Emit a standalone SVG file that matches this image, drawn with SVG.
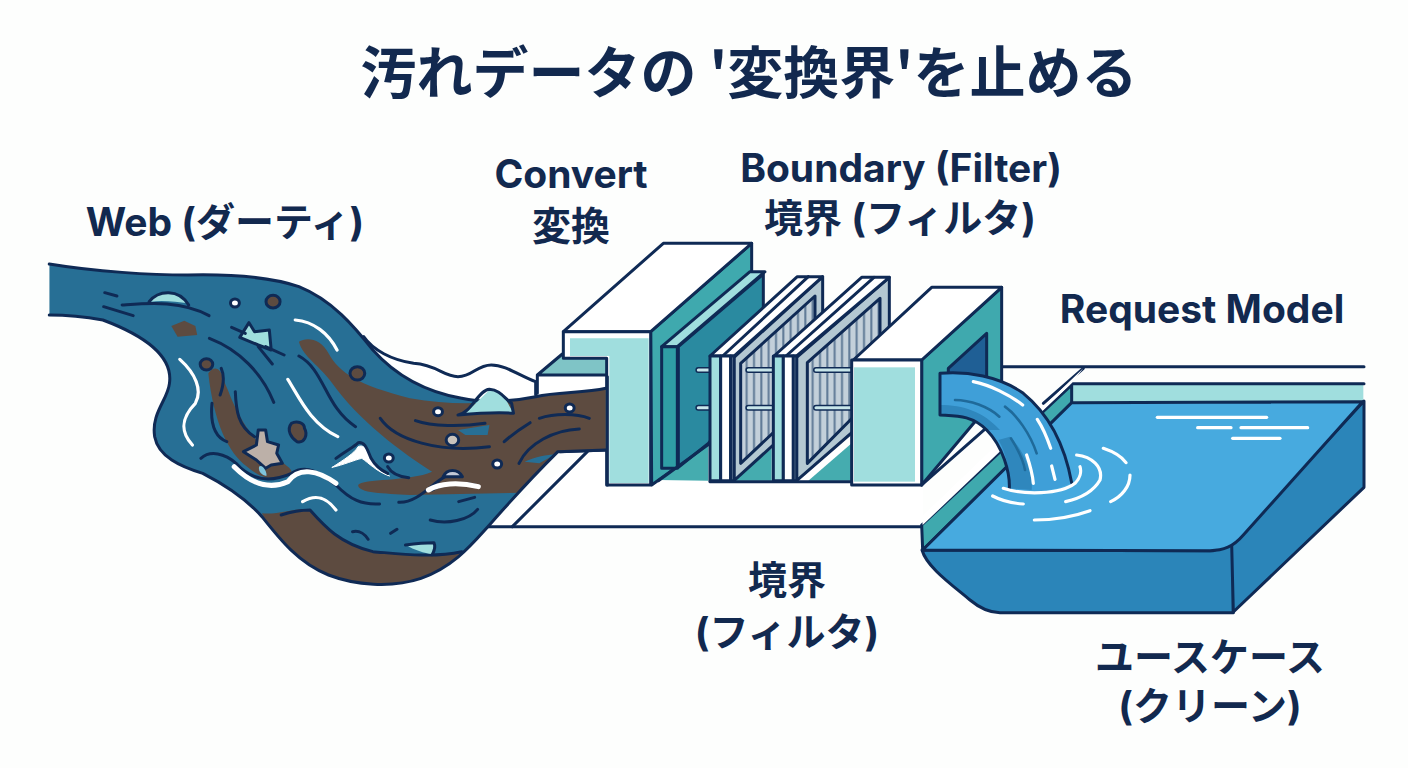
<svg xmlns="http://www.w3.org/2000/svg" width="1408" height="768" viewBox="0 0 1408 768">
<style>
text{font-family:Inter,"Noto Sans CJK JP","Noto Sans",sans-serif;font-weight:700;fill:#12294f;text-anchor:middle}
.l{font-size:39px}
path,polygon,line,circle,rect{vector-effect:non-scaling-stroke;stroke-linejoin:round;stroke-linecap:round}
.o{stroke:#0f2a55;stroke-width:3;fill:none}
.os{stroke:#0f2a55;stroke-width:3}
.t{stroke:#0f2a55;stroke-width:3;fill:none}
.w{stroke:#fff;stroke-width:3.2;fill:none}
.wb{stroke:#fff;stroke-width:5;fill:none}
.aqua{fill:#a0dede}.teal{fill:#3fa9ae}.br{fill:#5d4b40}
.f{fill:#fff}
</style>
<defs>
<pattern id="hatch" width="22" height="20" patternUnits="userSpaceOnUse">
<rect width="22" height="20" fill="#c3d0da"/><rect x="9" width="6" height="20" fill="#5f7a96"/>
</pattern>
<clipPath id="rc"><path d="M25,42C150,65 300,75 400,75C520,72 620,80 700,110C790,150 850,230 900,300C960,375 1040,425 1140,445C1200,460 1270,455 1340,440C1400,425 1470,430 1530,415L1530,600L1400,605C1350,660 1290,730 1215,825C1170,880 1120,950 1030,985C950,1015 850,1005 780,975C700,940 650,870 600,800C560,750 510,710 440,670C380,650 320,620 310,560C300,490 345,450 350,400C360,320 290,260 170,210C120,200 70,195 25,195Z"/></clipPath>
</defs>
<rect width="1408" height="768" fill="#fdfefd"/>
<text id="title" x="749" y="93" font-size="56" style="font-family:'Noto Sans CJK JP',sans-serif">汚れデータの '変換界'を止める</text>

<g id="platform" transform="translate(530,230) scale(.33333)">
<polygon class="f" points="-130,890 170,665 1180,660 1180,890"/>
<line class="o" x1="-130" y1="890" x2="1180" y2="890"/>
<line class="o" x1="-53" y1="890" x2="172" y2="665"/>
<line class="o" x1="90" y1="665" x2="232" y2="660"/>
</g>

<g id="basin" transform="translate(900,340) scale(.33333)">
<line class="o" x1="305" y1="80" x2="1392" y2="80"/>
<line class="o" x1="430" y1="190" x2="550" y2="85"/>
<polygon class="aqua" points="515,135 1390,135 1390,183 515,185"/>
<line class="o" x1="510" y1="131" x2="1392" y2="131"/>
<polygon class="teal os" points="65,555 515,135 515,190 68,630"/>
<path class="os" fill="#2b85b9" d="M66,630C80,680 150,730 210,780C240,805 270,818 300,818L1000,818L1000,610L940,632Z"/>
<polygon class="os" fill="#2b85b9" points="995,612 1392,183 1392,442 1000,816"/>
<path class="os" fill="#47aadf" d="M68,630L515,188L1388,185L1030,585C1000,620 970,632 930,632Z"/>
<line class="w" x1="772" y1="232" x2="1100" y2="232"/><line class="w" x1="893" y1="263" x2="993" y2="263"/><line class="w" x1="1023" y1="263" x2="1223" y2="263"/><line class="w" x1="998" y1="295" x2="1140" y2="295"/>
</g>

<g id="block1" transform="translate(530,230) scale(.33333)">
<polygon points="22,435 97,375 97,385 232,385 232,435" fill="#7fc4c6"/>
<polygon class="f" points="24,435 232,435 232,490 24,490"/>
<path class="o" d="M22,490L22,435L97,372M22,435L232,435"/>
<polygon class="teal os" points="362,305 665,40 665,125 540,640 365,765"/>
<polygon points="385,750 535,640 535,752" fill="#45acaf"/>
<polygon points="445,350 700,132 700,425 535,640 445,712" fill="#2a8aa0" class="os"/>
<polygon class="aqua os" points="395,350 660,125 705,125 442,350"/>
<polygon class="os" fill="#2f9ea5" points="395,350 442,350 442,715 395,715"/>
<line class="o" x1="385" y1="752" x2="540" y2="640"/>
<polygon class="f os" points="100,305 400,40 665,40 362,305"/>
<polygon class="f os" points="100,305 362,305 362,765 230,765 230,385 100,385"/>
<polygon class="aqua" points="120,325 356,325 356,759 238,759 238,378 120,378"/>
<line x1="505" y1="420" x2="540" y2="420" stroke="#0f2a55" stroke-width="6"/><line x1="505" y1="420" x2="540" y2="420" stroke="#c8e6ea" stroke-width="3"/>
<line x1="505" y1="533" x2="540" y2="533" stroke="#0f2a55" stroke-width="6"/><line x1="505" y1="533" x2="540" y2="533" stroke="#c8e6ea" stroke-width="3"/>
</g>

<g id="filter1" transform="translate(530,230) scale(.33333)">
<polygon points="610,752 725,655 725,752" fill="#45acaf"/>
<polygon class="os" fill="#b4c8d2" points="612,382 878,140 878,510 612,752"/>
<polygon class="os" fill="url(#hatch)" points="632,400 855,198 855,490 632,700"/>
<polygon class="f os" points="540,378 802,140 878,140 612,378"/>
<line class="o" x1="578" y1="378" x2="835" y2="140"/>
<rect class="os aqua" x="540" y="378" width="32" height="374"/>
<rect class="os f" x="572" y="378" width="30" height="374"/>
<rect class="os" fill="#b4c8d2" x="602" y="378" width="10" height="374"/>
<line x1="655" y1="420" x2="725" y2="420" stroke="#0f2a55" stroke-width="6"/><line x1="655" y1="420" x2="725" y2="420" stroke="#c8e6ea" stroke-width="3"/>
<line x1="655" y1="533" x2="725" y2="533" stroke="#0f2a55" stroke-width="6"/><line x1="655" y1="533" x2="725" y2="533" stroke="#c8e6ea" stroke-width="3"/>
</g>

<g id="filter2" transform="translate(530,230) scale(.33333)">
<polygon points="835,752 965,640 965,752" fill="#45acaf"/>
<polygon class="os" fill="#b4c8d2" points="800,382 1078,142 1078,510 800,752"/>
<polygon class="os" fill="url(#hatch)" points="832,398 1050,205 1050,480 832,700"/>
<polygon class="f os" points="732,378 995,142 1078,142 800,378"/>
<line class="o" x1="768" y1="378" x2="1032" y2="142"/>
<rect class="os aqua" x="730" y="378" width="30" height="374"/>
<rect class="os f" x="760" y="378" width="30" height="374"/>
<rect class="os" fill="#b4c8d2" x="790" y="378" width="10" height="374"/>
<line x1="858" y1="420" x2="965" y2="420" stroke="#0f2a55" stroke-width="6"/><line x1="858" y1="420" x2="965" y2="420" stroke="#c8e6ea" stroke-width="3"/>
<line x1="858" y1="533" x2="965" y2="533" stroke="#0f2a55" stroke-width="6"/><line x1="858" y1="533" x2="965" y2="533" stroke="#c8e6ea" stroke-width="3"/>
<line class="o" x1="540" y1="755" x2="965" y2="755"/>
</g>

<g id="outlet" transform="translate(530,230) scale(.33333)">
<polygon class="teal os" points="1175,390 1415,172 1415,480 1175,765"/>
<polygon class="os" fill="#1f5f95" points="1255,415 1370,310 1370,440 1255,440"/>
<polygon class="f os" points="970,390 1205,172 1415,172 1175,390"/>
<rect class="f os" x="965" y="390" width="210" height="375"/>
<rect class="aqua" x="972" y="412" width="183" height="343"/>
</g>

<g id="white-band" transform="translate(900,340) scale(.33333)">
<polygon class="f" points="65,530 305,300 440,190 550,85 515,130 68,555"/>
<line class="o" x1="65" y1="435" x2="300" y2="228"/>
</g>

<g id="river" transform="translate(40,250) scale(.3699,.33333)">
<path d="M875,260C900,300 950,330 1010,340C1075,345 1090,380 1130,380C1170,380 1180,345 1220,345C1260,345 1300,380 1340,395L1340,440L1140,445L900,320Z" class="f"/>
<path class="o" d="M875,260C900,300 950,330 1010,340C1075,345 1090,380 1130,380C1170,380 1180,345 1220,345C1260,345 1300,380 1340,395L1340,435"/>
<g clip-path="url(#rc)">
<rect x="0" y="0" width="1600" height="1050" fill="#276f95"/>
<path class="br" d="M700,275C720,260 760,265 780,310C810,370 860,405 1000,445C1150,475 1270,455 1400,430L1530,410L1530,610L1400,605L1300,728L1000,735C930,730 860,730 860,705C870,685 1000,695 1060,665C980,610 860,510 790,400C760,350 710,320 700,275Z"/>
<path d="M1130,540L1215,525L1210,555L1150,555ZM1310,635C1340,620 1370,615 1395,612L1350,640Z" fill="#276f95"/>
<path class="br" d="M455,370C470,345 490,350 500,400C520,450 535,510 600,590C640,630 680,650 680,665C650,700 600,690 560,650C510,610 470,520 455,370Z"/>
<path class="br" d="M600,790C650,795 690,770 730,780C770,830 810,880 900,905C960,910 1060,925 1140,905L1140,1010L700,1010Z"/>
</g>
<path class="o" fill="none" d="M25,42C150,65 300,75 400,75C520,72 620,80 700,110C790,150 850,230 900,300C960,375 1040,425 1140,445C1200,460 1270,455 1340,440C1400,425 1470,430 1530,415M1530,600L1400,605C1350,660 1290,730 1215,825C1170,880 1120,950 1030,985C950,1015 850,1005 780,975C700,940 650,870 600,800C560,750 510,710 440,670C380,650 320,620 310,560C300,490 345,450 350,400C360,320 290,260 170,210C120,200 70,195 25,195"/>
<path class="aqua" d="M300,155C320,120 370,115 400,160C370,155 330,150 300,155Z"/>
<path class="t" d="M295,155C320,120 375,115 402,165M222,165C290,160 380,150 457,197M175,128L208,138M172,170L252,197"/>
<circle class="os" cx="527" cy="159" r="12" fill="#fff"/>
<circle class="os" cx="630" cy="155" r="19" fill="#5d4b40"/>
<circle class="os" cx="450" cy="343" r="17" fill="#5d4b40"/>
<circle class="os" cx="858" cy="370" r="20" fill="#5d4b40"/>
<path class="br" d="M355,228L390,212L420,228L425,255L372,260Z"/>
<path class="aqua" d="M540,262L565,218L580,245L620,240L625,300L590,285Z"/>
<path class="t" d="M518,232L555,250M540,262L565,218L580,245L620,240L625,300L590,285L540,262M610,290L660,315M590,290L628,342"/>
<path class="w" d="M690,210C740,215 780,250 803,300M378,328C420,370 440,420 420,460C385,500 375,540 412,585M670,388C700,440 730,520 805,560"/>
<path class="t" d="M458,265C540,300 600,370 632,457M700,318C770,360 770,470 853,530M490,355C500,380 495,410 487,435M465,460C460,520 470,560 505,575M528,425C530,480 535,530 580,560M920,505C960,570 1080,610 1215,590M1015,512C1060,530 1140,530 1203,520M1255,575C1280,550 1300,535 1325,518M1350,505C1390,490 1450,490 1485,505M1295,640C1320,580 1390,540 1458,537M435,625C460,600 500,610 530,640C570,690 620,700 680,670C720,640 760,670 800,705C840,750 870,765 918,762M970,757C1020,760 1060,700 1095,680M1060,720C1090,700 1150,695 1185,708M1132,755L1175,742M1055,810C1100,825 1160,810 1183,778M652,795C680,785 700,780 730,780C770,830 810,880 900,905C960,910 1060,925 1140,905M845,845C865,840 880,855 887,868M948,850L965,838M940,650C950,670 970,680 997,683"/>
<path class="f" d="M790,652C820,630 850,610 860,590C880,580 890,610 900,640C915,665 930,670 945,678C910,665 890,640 870,625C850,630 820,645 790,652Z" stroke="#fff" stroke-width="1"/>
<path class="t" d="M800,625C830,600 850,590 860,578C880,575 885,600 895,625C905,645 920,660 940,670"/>
<path class="wb" d="M525,650C570,700 620,720 670,695C700,650 750,660 800,700"/>
<path class="wb" d="M1050,720C1080,700 1130,695 1185,710"/>
<path class="w" d="M710,755C740,735 770,735 800,780"/>
<path d="M1150,490L1215,420L1250,430L1280,490Z" class="aqua"/>
<path class="t" d="M1130,495C1165,490 1185,420 1215,418C1245,420 1255,445 1275,460L1280,490C1230,485 1180,490 1130,495"/>
<path class="os" fill="#bcb0a8" d="M590,540L610,540L615,575L645,585L640,610L655,640L625,645L610,655L585,630L550,605L585,585Z"/>
<path d="M592,650C600,640 615,665 612,678C600,675 590,665 592,650Z" fill="#7fc4dc"/>
<path class="os br" d="M680,520C695,510 715,520 715,535C725,555 715,580 695,575C680,565 665,540 680,520Z"/>
<circle class="os" cx="1076" cy="485" r="12" fill="#fff"/>
<circle class="os" cx="1115" cy="570" r="17" fill="#c9c3bc"/>
<circle class="os" cx="1236" cy="642" r="12" fill="#fff"/>
<circle class="os" cx="1432" cy="474" r="12" fill="#fff"/>
<circle class="os" cx="943" cy="624" r="12" fill="#fff"/>
<path class="os" fill="#c3c9d6" d="M1090,680C1100,655 1130,655 1142,680Z"/>
<path d="M990,885L1065,880L1060,912C1040,910 1010,900 990,885Z" class="aqua"/>
<path class="t" d="M988,885C1020,880 1045,878 1065,878C1070,890 1065,905 1060,914"/>
</g>

<g id="block1-cover" transform="translate(530,230) scale(.33333)">
<line class="o" x1="232" y1="440" x2="232" y2="765"/>
</g>

<g id="jet" transform="translate(900,340) scale(.33333)">
<path fill="#3f9fd8" d="M120,100C200,92 300,110 370,160C450,225 495,320 515,428C460,455 390,460 328,445C330,400 310,320 260,270C215,225 170,228 120,225Z"/>
<path fill="#2f87bd" d="M330,290C370,330 400,400 395,450L328,445C330,400 320,340 295,300ZM120,195C190,195 250,215 300,270L260,270C215,225 170,228 120,225Z"/>
<path class="os" fill="none" d="M328,445C330,400 310,320 260,270C215,225 170,228 120,225L120,100C200,92 300,110 370,160C450,225 495,320 515,428"/>
<path stroke="#1f6a9a" stroke-width="2.6" fill="none" d="M165,180C210,180 265,200 298,230M315,200C350,225 390,280 410,340M333,295C355,330 370,360 375,390"/>
<path class="w" d="M220,125C270,135 330,165 368,195M412,238C430,265 442,295 452,325M380,345C390,375 398,405 400,430M455,378L465,418M310,445C370,465 480,465 525,430C540,415 545,395 540,380M530,345C575,350 610,380 600,420C580,455 540,475 497,485M610,325C640,335 665,350 678,368M690,405C690,440 665,470 632,485M278,468C310,485 340,490 370,492M403,540C460,540 520,530 570,512"/>
</g>

<g id="labels">
<text class="l" x="225" y="236">Web (ダーティ)</text>
<text class="l" x="571" y="188">Convert</text>
<text class="l" x="571" y="240">変換</text>
<text class="l" x="901" y="182">Boundary (Filter)</text>
<text class="l" x="900" y="232">境界 (フィルタ)</text>
<text class="l" x="1202" y="323">Request Model</text>
<text class="l" x="787" y="594">境界</text>
<text class="l" x="787" y="646">(フィルタ)</text>
<text class="l" x="1210" y="671">ユースケース</text>
<text class="l" x="1210" y="720">(クリーン)</text>
</g>
</svg>
